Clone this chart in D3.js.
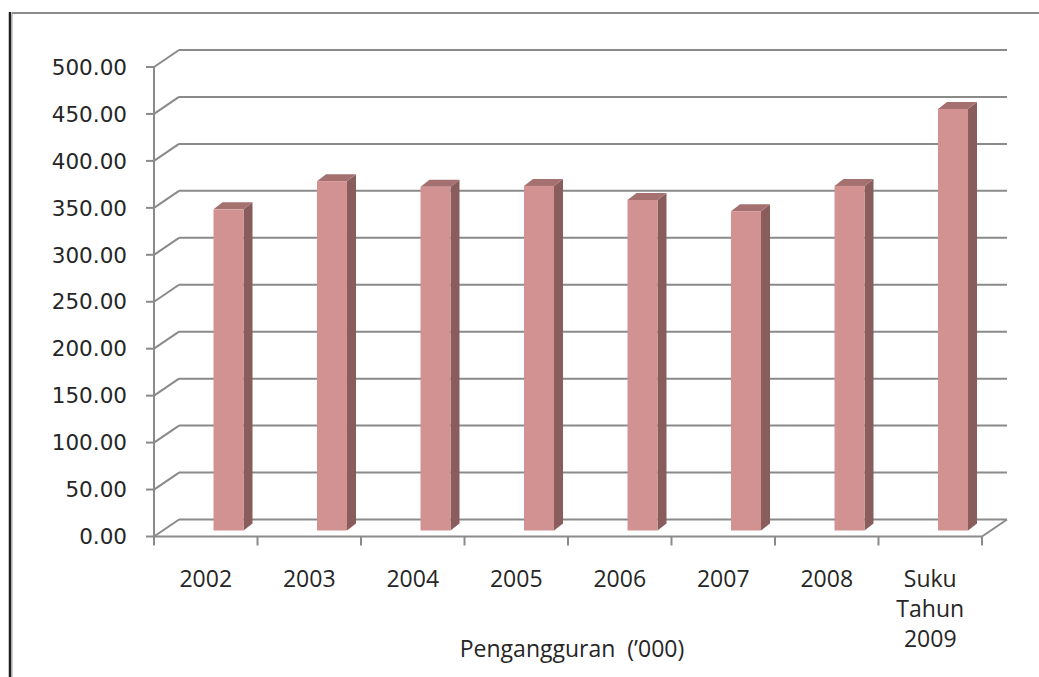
<!DOCTYPE html>
<html>
<head>
<meta charset="utf-8">
<script src="https://cdn.jsdelivr.net/npm/d3@7"></script>
<style>
  body { margin: 0; background: #fff; }
  svg { display: block; }
</style>
</head>
<body>
<svg width="1039" height="677"></svg>
<script>
// values (thousands)
let categories = ["2002", "2003", "2004", "2005", "2006", "2007", "2008", "Suku Tahun 2009"];
let values = [342, 372, 366, 367, 352, 340, 367, 449];
let yTicks = [0, 50, 100, 150, 200, 250, 300, 350, 400, 450, 500];
let axisTitle = "Pengangguran  (\u2019000)";

let svg = d3.select("svg");

// fake 3d: back wall is shifted by depth
let depthX = 25, depthY = -17;
let barDepthX = 9, barDepthY = -7;
let barFrontY = -6;

let xScale = d3.scaleBand().domain(categories).range([154, 982]).padding(0);
let yScale = d3.scaleLinear().domain([0, 500]).range([536.5, 67]);

let gridColor = "#8a8a8a";

// frame borders
svg.append("line").attr("x1", 10).attr("y1", 12).attr("x2", 10).attr("y2", 677)
  .attr("stroke", "#1e1e1e").attr("stroke-width", 2.5);
svg.append("line").attr("x1", 12).attr("y1", 13).attr("x2", 1039).attr("y2", 13)
  .attr("stroke", "#8c8c8c").attr("stroke-width", 2);
svg.append("line").attr("x1", 12).attr("y1", 14).attr("x2", 12).attr("y2", 677)
  .attr("stroke", "#9a9a9a").attr("stroke-width", 1);

let g = svg.append("g");
let x0 = xScale.range()[0], x1 = xScale.range()[1];

// gridlines on back wall + diagonals to the axis
yTicks.forEach(function(t) {
  let y = yScale(t);
  g.append("line")
    .attr("x1", x0 + depthX).attr("y1", y + depthY)
    .attr("x2", x1 + depthX).attr("y2", y + depthY)
    .attr("stroke", gridColor).attr("stroke-width", 2);
  g.append("line")
    .attr("x1", x0).attr("y1", y)
    .attr("x2", x0 + depthX).attr("y2", y + depthY)
    .attr("stroke", gridColor).attr("stroke-width", 2);
  // tick
  g.append("line")
    .attr("x1", x0 - 8).attr("y1", y)
    .attr("x2", x0).attr("y2", y)
    .attr("stroke", gridColor).attr("stroke-width", 2);
  g.append("text")
    .attr("x", 127).attr("y", y)
    .attr("dy", "0.36em")
    .attr("text-anchor", "end")
    .attr("font-family", "DejaVu Sans, Verdana, sans-serif")
    .attr("font-size", 21.5)
    .attr("fill", "#262626")
    .text(d3.format(".2f")(t));
});

// floor right edge
g.append("line")
  .attr("x1", x1).attr("y1", yScale(0))
  .attr("x2", x1 + depthX).attr("y2", yScale(0) + depthY)
  .attr("stroke", gridColor).attr("stroke-width", 2);

// y axis line
g.append("line")
  .attr("x1", x0).attr("y1", yScale(500))
  .attr("x2", x0).attr("y2", yScale(0))
  .attr("stroke", gridColor).attr("stroke-width", 2);
// x axis line
g.append("line")
  .attr("x1", x0).attr("y1", yScale(0))
  .attr("x2", x1).attr("y2", yScale(0))
  .attr("stroke", gridColor).attr("stroke-width", 2);
// x ticks on band edges
categories.concat([null]).forEach(function(c, i) {
  let x = x0 + i * xScale.bandwidth();
  g.append("line")
    .attr("x1", x).attr("y1", yScale(0))
    .attr("x2", x).attr("y2", yScale(0) + 9)
    .attr("stroke", gridColor).attr("stroke-width", 2);
});

// BARS
let barW = 30;
let barOffset = xScale.bandwidth() * 0.575;
let bars = g.selectAll(".bar").data(categories).enter().append("g").attr("class", "bar");

bars.each(function(c, i) {
  let sel = d3.select(this);
  let left = xScale(c) + barOffset;
  let right = left + barW;
  let bottom = yScale(0) + barFrontY;
  let top = yScale(values[i]) + barFrontY;
  // side face
  sel.append("polygon")
    .attr("points", [
      [right, top], [right + barDepthX, top + barDepthY],
      [right + barDepthX, bottom + barDepthY], [right, bottom]
    ].join(" "))
    .attr("fill", "#8a5d5d");
  // top face
  sel.append("polygon")
    .attr("points", [
      [left, top], [left + barDepthX, top + barDepthY],
      [right + barDepthX, top + barDepthY], [right, top]
    ].join(" "))
    .attr("fill", "#a57070");
  // front face
  sel.append("rect")
    .attr("x", left).attr("y", top)
    .attr("width", barW).attr("height", bottom - top)
    .attr("fill", "#d39292");
});

// category labels
let labelFont = "Open Sans, Lato, sans-serif";
categories.forEach(function(c) {
  let words = c.indexOf(" ") > 0 ? c.split(" ") : [c];
  let t = g.append("text")
    .attr("x", xScale(c) + xScale.bandwidth() / 2)
    .attr("y", 587)
    .attr("text-anchor", "middle")
    .attr("font-family", labelFont)
    .attr("font-size", 23)
    .attr("fill", "#262626");
  words.forEach(function(w, j) {
    t.append("tspan")
      .attr("x", xScale(c) + xScale.bandwidth() / 2)
      .attr("dy", j == 0 ? 0 : 30)
      .text(w);
  });
});

// axis title
g.append("text")
  .attr("x", 572).attr("y", 657)
  .attr("text-anchor", "middle")
  .attr("font-family", labelFont)
  .attr("font-size", 23)
  .attr("fill", "#262626")
  .attr("xml:space", "preserve")
  .style("white-space", "pre")
  .text(axisTitle);
</script>
</body>
</html>
